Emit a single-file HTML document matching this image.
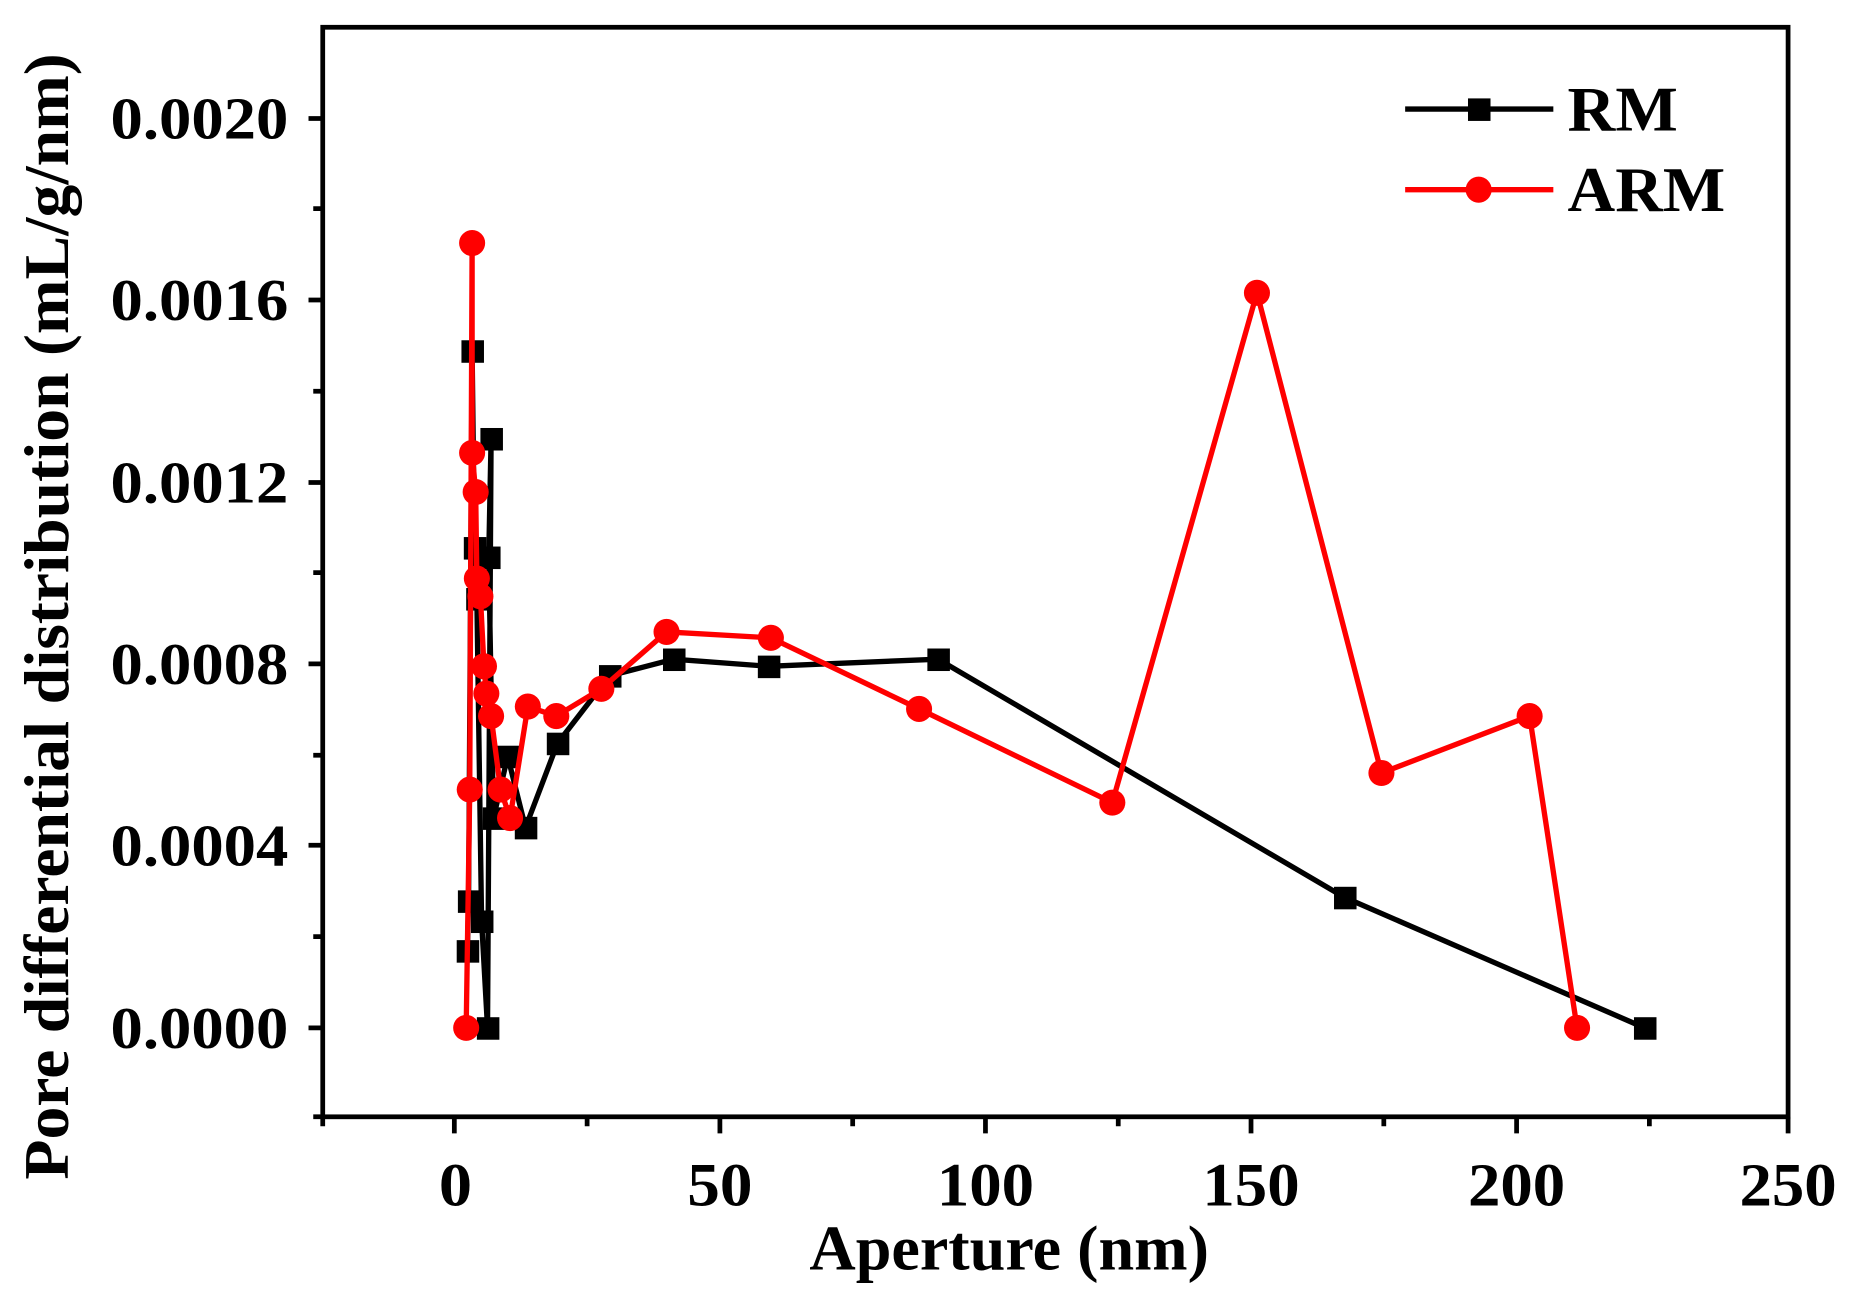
<!DOCTYPE html>
<html><head><meta charset="utf-8"><style>html,body{margin:0;padding:0;background:#fff}svg{display:block}</style></head>
<body>
<svg width="1850" height="1297" viewBox="0 0 1560 1094" xmlns="http://www.w3.org/2000/svg" font-family="Liberation Serif, serif" font-weight="bold">
<rect x="0" y="0" width="1560" height="1094" fill="#fff"/>
<g stroke="#000" stroke-width="4" fill="none">
<rect x="272" y="23" width="1236" height="919"/>
<path d="M272 867H260M272 713H260M272 560H260M272 407H260M272 253H260M272 100H260"/>
<path d="M272 942H264M272 790H264M272 637H264M272 483H264M272 330H264M272 176H264"/>
<path d="M383 942V956M607 942V956M831 942V956M1055 942V956M1279 942V956M1508 942V956"/>
<path d="M272 942V950M495 942V950M719 942V950M943 942V950M1167 942V950M1391 942V950"/>
</g>
<g font-size="50" text-anchor="end">
<text x="243" y="884" textLength="150" lengthAdjust="spacingAndGlyphs">0.0000</text>
<text x="243" y="730" textLength="150" lengthAdjust="spacingAndGlyphs">0.0004</text>
<text x="243" y="577" textLength="150" lengthAdjust="spacingAndGlyphs">0.0008</text>
<text x="243" y="424" textLength="150" lengthAdjust="spacingAndGlyphs">0.0012</text>
<text x="243" y="270" textLength="150" lengthAdjust="spacingAndGlyphs">0.0016</text>
<text x="243" y="117" textLength="150" lengthAdjust="spacingAndGlyphs">0.0020</text>
</g>
<g font-size="52" text-anchor="middle">
<text x="384" y="1017" textLength="28" lengthAdjust="spacingAndGlyphs">0</text>
<text x="607" y="1017" textLength="55" lengthAdjust="spacingAndGlyphs">50</text>
<text x="831" y="1017" textLength="82" lengthAdjust="spacingAndGlyphs">100</text>
<text x="1055" y="1017" textLength="82" lengthAdjust="spacingAndGlyphs">150</text>
<text x="1279" y="1017" textLength="82" lengthAdjust="spacingAndGlyphs">200</text>
<text x="1508" y="1017" textLength="82" lengthAdjust="spacingAndGlyphs">250</text>
</g>
<text x="851" y="1071" font-size="54" text-anchor="middle" textLength="337" lengthAdjust="spacingAndGlyphs">Aperture (nm)</text>
<text transform="translate(57,520) rotate(-90)" font-size="54" text-anchor="middle" textLength="950" lengthAdjust="spacingAndGlyphs">Pore differential distribution (mL/g/nm)</text>
<polyline fill="none" stroke="#000" stroke-width="4.5" points="394,802 395,760 398,296 400,462 402,505 406,777 411,867 414,370 412,470 416,690 428,638 443,698 470,627 514,570 568,556 648,562 791,556 1134,757 1387,867"/>
<g fill="#000">
<rect x="385" y="793" width="19" height="19"/><rect x="386" y="751" width="19" height="19"/><rect x="389" y="287" width="19" height="19"/><rect x="391" y="453" width="19" height="19"/><rect x="393" y="496" width="19" height="19"/><rect x="397" y="768" width="19" height="19"/><rect x="402" y="858" width="19" height="19"/><rect x="405" y="361" width="19" height="19"/><rect x="403" y="461" width="19" height="19"/><rect x="407" y="681" width="19" height="19"/><rect x="419" y="629" width="19" height="19"/><rect x="434" y="689" width="19" height="19"/><rect x="461" y="618" width="19" height="19"/><rect x="505" y="561" width="19" height="19"/><rect x="559" y="547" width="19" height="19"/><rect x="639" y="553" width="19" height="19"/><rect x="782" y="547" width="19" height="19"/><rect x="1125" y="748" width="19" height="19"/><rect x="1378" y="858" width="19" height="19"/>
</g>
<polyline fill="none" stroke="#f00" stroke-width="4.5" points="393,867 396,666 398,205 398,382 401,415 402,488 405,503 408,562 410,585 414,604 422,666 430,690 445,596 469,604 507,581 562,533 650,538 775,598 938,677 1060,247 1165,652 1290,604 1330,867"/>
<g fill="#f00">
<circle cx="393" cy="867" r="11"/><circle cx="396" cy="666" r="11"/><circle cx="398" cy="205" r="11"/><circle cx="398" cy="382" r="11"/><circle cx="401" cy="415" r="11"/><circle cx="402" cy="488" r="11"/><circle cx="405" cy="503" r="11"/><circle cx="408" cy="562" r="11"/><circle cx="410" cy="585" r="11"/><circle cx="414" cy="604" r="11"/><circle cx="422" cy="666" r="11"/><circle cx="430" cy="690" r="11"/><circle cx="445" cy="596" r="11"/><circle cx="469" cy="604" r="11"/><circle cx="507" cy="581" r="11"/><circle cx="562" cy="533" r="11"/><circle cx="650" cy="538" r="11"/><circle cx="775" cy="598" r="11"/><circle cx="938" cy="677" r="11"/><circle cx="1060" cy="247" r="11"/><circle cx="1165" cy="652" r="11"/><circle cx="1290" cy="604" r="11"/><circle cx="1330" cy="867" r="11"/>
</g>
<line x1="1185" y1="92" x2="1310" y2="92" stroke="#000" stroke-width="4.5"/>
<rect x="1238" y="83" width="19" height="19" fill="#000"/>
<text x="1322" y="110" font-size="54" textLength="93" lengthAdjust="spacingAndGlyphs">RM</text>
<line x1="1185" y1="160" x2="1310" y2="160" stroke="#f00" stroke-width="4.5"/>
<circle cx="1247" cy="160" r="11" fill="#f00"/>
<text x="1322" y="178" font-size="54" textLength="133" lengthAdjust="spacingAndGlyphs">ARM</text>
</svg>
</body></html>
